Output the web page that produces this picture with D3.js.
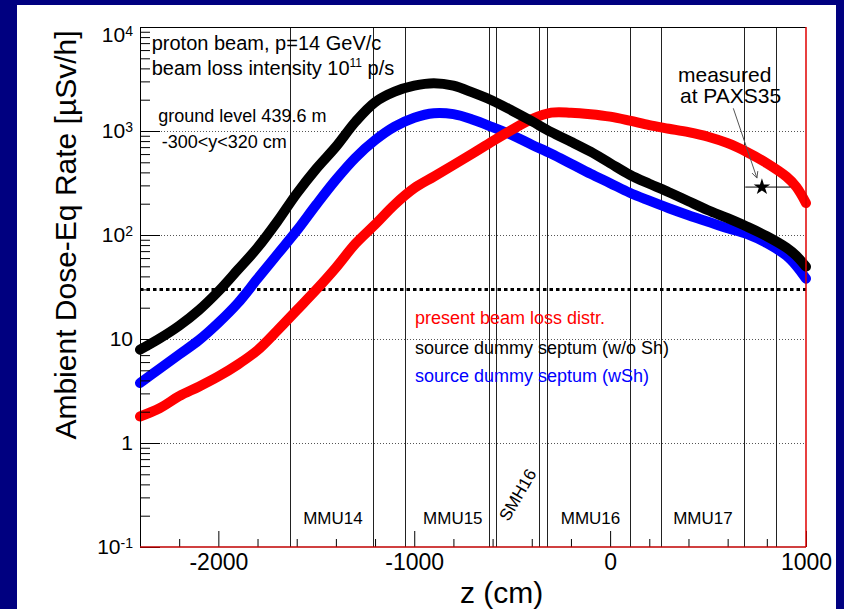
<!DOCTYPE html>
<html>
<head>
<meta charset="utf-8">
<script src="https://cdn.jsdelivr.net/npm/d3@7"></script>
<style>
  body { margin: 0; background: #000080; }
  svg { display: block; }
  text { font-family: "Liberation Sans", Arial, Helvetica, sans-serif; }
</style>
</head>
<body>
<svg id="chart" width="844" height="609"></svg>
<script>
// Longitudinal position along the line (cm)
const zPositions = [-2400, -2300, -2200, -2100, -2000, -1900, -1800, -1700, -1600, -1500,
  -1400, -1300, -1200, -1100, -1000, -900, -800, -700, -600, -500,
  -400, -300, -200, -100, 0, 100, 200, 300, 400, 500,
  600, 700, 800, 900, 950, 1000];

// Ambient dose-equivalent rate (uSv/h) for each source configuration
const presentLoss = [1.80, 2.16, 2.82, 3.48, 4.37, 5.69, 7.80, 12.0, 18.9, 29.8,
  48.5, 82.5, 126, 196, 282, 364, 471, 612, 798, 1030,
  1299, 1500, 1500, 1451, 1373, 1256, 1137, 1052, 974, 881,
  763, 625, 490, 364, 291, 203];
const dummyNoShield = [7.89, 10.1, 13.4, 18.9, 28.7, 46.4, 75.5, 134, 250, 434,
  706, 1228, 1892, 2388, 2727, 2882, 2727, 2335, 1955, 1567,
  1242, 974, 789, 632, 490, 380, 311, 258, 211, 173,
  145, 120, 97.3, 75.5, 63.2, 49.6];
const dummyShield = [3.78, 5.18, 7.10, 9.73, 14.3, 22.2, 38.0, 64.7, 110, 196,
  340, 554, 816, 1100, 1343, 1483, 1451, 1284, 1088, 911,
  739, 605, 485, 388, 315, 255, 214, 181, 155, 134,
  116, 102, 83.4, 63.2, 50.7, 38.0];

const seriesNames = ["present beam loss distr.", "source dummy septum (w/o Sh)", "source dummy septum (wSh)"];
const seriesColors = ["#ff0000", "#000000", "#0000ff"];

// Element boundaries (cm) and element labels
const boundaryZ = [-1633, -1213, -1049, -620, -585, -365, -324, 103, 261, 686, 847];
const magnetNames = ["MMU14", "MMU15", "MMU16", "MMU17"];
const magnetZ = [-1415, -803, -100, 474];
const septumName = "SMH16";
const septumZ = -473;
const septumLevel = 0.318;

// Measurement at PAXS35
const measuredZ = 775;
const measuredDose = 289;
const measuredZRange = [690, 920];

// Reference dose level (uSv/h)
const limitDose = 30;

// Axis ticks
const xMajorTicks = [-2000, -1000, 0, 1000];
const xMinorTicks = [-2400, -2200, -1800, -1600, -1400, -1200, -800, -600, -400, -200, 200, 400, 600, 800];
const yDecades = [0.1, 1, 10, 100, 1000, 10000];
const yTickLabels = ["10^{-1}", "1", "10", "10^{2}", "10^{3}", "10^{4}"];
const gridLevels = [1, 10, 100, 1000];

const svg = d3.select("#chart");
svg.append("rect").attr("x", 17).attr("y", 5).attr("width", 819).attr("height", 604).attr("fill", "#fff");

const plotLeft = 140, plotRight = 806, plotTop = 27, plotBottom = 547;
const x = d3.scaleLinear().domain([-2400, 1000]).range([plotLeft, plotRight]);
const y = d3.scaleLog().domain([0.1, 1e4]).range([plotBottom, plotTop]);

// minor log ticks
const yMinorTicks = [];
yDecades.slice(0, -1).forEach(d => { for (let k = 2; k <= 9; k++) yMinorTicks.push(d * k); });

// dotted grid at decades
svg.append("g").selectAll("line").data(gridLevels).join("line")
  .attr("x1", plotLeft).attr("x2", plotRight)
  .attr("y1", d => Math.round(y(d)) + 0.5).attr("y2", d => Math.round(y(d)) + 0.5)
  .attr("stroke", "#555").attr("stroke-width", 1).attr("stroke-dasharray", "1,2");

// element boundaries
svg.append("g").selectAll("line").data(boundaryZ).join("line")
  .attr("x1", d => Math.round(x(d)) + 0.5).attr("x2", d => Math.round(x(d)) + 0.5)
  .attr("y1", plotTop).attr("y2", plotBottom)
  .attr("stroke", "#222").attr("stroke-width", 1);

// reference dose level
svg.append("line")
  .attr("x1", plotLeft).attr("x2", plotRight)
  .attr("y1", y(limitDose)).attr("y2", y(limitDose))
  .attr("stroke", "#000").attr("stroke-width", 3).attr("stroke-dasharray", "3.5,3");

// dose curves
const series = [presentLoss, dummyNoShield, dummyShield];
const line = d3.line()
  .x((d, i) => x(zPositions[i]))
  .y(d => y(d))
  .curve(d3.curveCatmullRom.alpha(0.5));
const drawOrder = [2, 0, 1];
drawOrder.forEach(k => {
  svg.append("path")
    .datum(series[k])
    .attr("d", line)
    .attr("fill", "none")
    .attr("stroke", seriesColors[k])
    .attr("stroke-width", 10)
    .attr("stroke-linecap", "round")
    .attr("stroke-linejoin", "round");
});

// axes
const xMinor = d3.axisBottom(x).tickValues(xMinorTicks).tickSize(-8).tickFormat("");
const xMajor = d3.axisBottom(x).tickValues(xMajorTicks).tickSize(-16).tickPadding(7).tickFormat(d => String(d));
const yMinor = d3.axisLeft(y).tickValues(yMinorTicks).tickSize(-10).tickFormat("");
const yMajor = d3.axisLeft(y).tickValues(yDecades).tickSize(-20).tickFormat("");

function styleAxis(g) {
  g.select(".domain").remove();
  g.selectAll(".tick line").attr("stroke", "#000").attr("stroke-width", 1);
}
svg.append("g").attr("transform", `translate(0,${plotBottom})`).call(xMinor).call(styleAxis);
svg.append("g").attr("transform", `translate(0,${plotBottom})`).call(xMajor).call(styleAxis)
  .call(g => g.selectAll("text").attr("font-size", 23).attr("fill", "#000")
    .attr("font-family", "'Liberation Sans', Arial, sans-serif"));
svg.append("g").attr("transform", `translate(${plotLeft},0)`).call(yMinor).call(styleAxis);
svg.append("g").attr("transform", `translate(${plotLeft},0)`).call(yMajor).call(styleAxis);

// y tick labels with exponents
const yLab = svg.append("g").attr("font-size", 21).attr("fill", "#000");
yDecades.forEach((d, i) => {
  const m = yTickLabels[i].match(/^([^\^]+)(?:\^\{(.+)\})?$/);
  const shift = d === 1e4 ? 14.7 : 6.5;
  const t = yLab.append("text").attr("x", plotLeft - 7).attr("y", y(d) + shift).attr("text-anchor", "end");
  t.append("tspan").text(m[1]);
  if (m[2]) t.append("tspan").attr("font-size", 14).attr("dy", -6).text(m[2]);
});

// frame
svg.append("line").attr("x1", plotLeft).attr("x2", plotRight).attr("y1", plotTop + 0.5).attr("y2", plotTop + 0.5).attr("stroke", "#000");
svg.append("line").attr("x1", plotLeft + 0.5).attr("x2", plotLeft + 0.5).attr("y1", plotTop).attr("y2", plotBottom).attr("stroke", "#000");
svg.append("line").attr("x1", plotLeft).attr("x2", plotRight).attr("y1", plotBottom).attr("y2", plotBottom).attr("stroke", "#c00000").attr("stroke-width", 1.5);
svg.append("line").attr("x1", plotRight).attr("x2", plotRight).attr("y1", plotTop).attr("y2", plotBottom).attr("stroke", "#e00000").attr("stroke-width", 1.5);

// measurement point with horizontal range
svg.append("line")
  .attr("x1", x(measuredZRange[0])).attr("x2", x(measuredZRange[1]))
  .attr("y1", y(measuredDose)).attr("y2", y(measuredDose))
  .attr("stroke", "#000").attr("stroke-width", 1);
svg.append("path")
  .attr("d", d3.symbol(d3.symbolStar, 85)())
  .attr("transform", `translate(${x(measuredZ)},${y(measuredDose)})`)
  .attr("fill", "#000");

// annotation arrow
const ax0 = 733.3, ay0 = 108.3, ax1 = x(measuredZ) - 5, ay1 = y(measuredDose) - 9;
const ang = Math.atan2(ay1 - ay0, ax1 - ax0);
svg.append("line").attr("x1", ax0).attr("y1", ay0).attr("x2", ax1).attr("y2", ay1)
  .attr("stroke", "#555").attr("stroke-width", 1);
[0.45, -0.45].forEach(a => {
  svg.append("line").attr("x1", ax1).attr("y1", ay1)
    .attr("x2", ax1 - 7 * Math.cos(ang + a)).attr("y2", ay1 - 7 * Math.sin(ang + a))
    .attr("stroke", "#555").attr("stroke-width", 1);
});

// text annotations
const note = (tx, ty, size, str, color) => svg.append("text").attr("x", tx).attr("y", ty)
  .attr("font-size", size).attr("fill", color || "#000").text(str);
note(151.7, 50, 20, "proton beam, p=14 GeV/c");
const beamLine = svg.append("text").attr("x", 151.7).attr("y", 75).attr("font-size", 20).attr("fill", "#000");
beamLine.append("tspan").text("beam loss intensity 10");
beamLine.append("tspan").attr("font-size", 12).attr("dy", -8).text("11");
beamLine.append("tspan").attr("dy", 8).text(" p/s");
note(158.3, 121.7, 18, "ground level 439.6 m");
note(161.7, 148.3, 18, "-300<y<320 cm");
note(678, 81.7, 21, "measured");
note(680, 103.3, 21, "at PAXS35");

// legend
const legendY = [324.3, 354, 381.7];
seriesNames.forEach((n, i) => note(415, legendY[i], 18, n, seriesColors[i]));

// element labels
svg.append("g").selectAll("text").data(magnetNames).join("text")
  .attr("x", (d, i) => x(magnetZ[i])).attr("y", 524.3)
  .attr("text-anchor", "middle").attr("font-size", 17).attr("fill", "#000")
  .text(d => d);
svg.append("text")
  .attr("transform", `translate(${x(septumZ)},${y(septumLevel)}) rotate(-60)`)
  .attr("text-anchor", "middle").attr("dy", "0.36em")
  .attr("font-size", 17).attr("fill", "#000").text(septumName);

// axis titles
svg.append("text").attr("x", 460).attr("y", 603).attr("font-size", 30).attr("fill", "#000").text("z (cm)");
svg.append("text").attr("transform", "translate(76,235) rotate(-90)")
  .attr("text-anchor", "middle").attr("font-size", 30).attr("fill", "#000")
  .text("Ambient Dose-Eq Rate [\u00b5Sv/h]");
</script>
</body>
</html>
